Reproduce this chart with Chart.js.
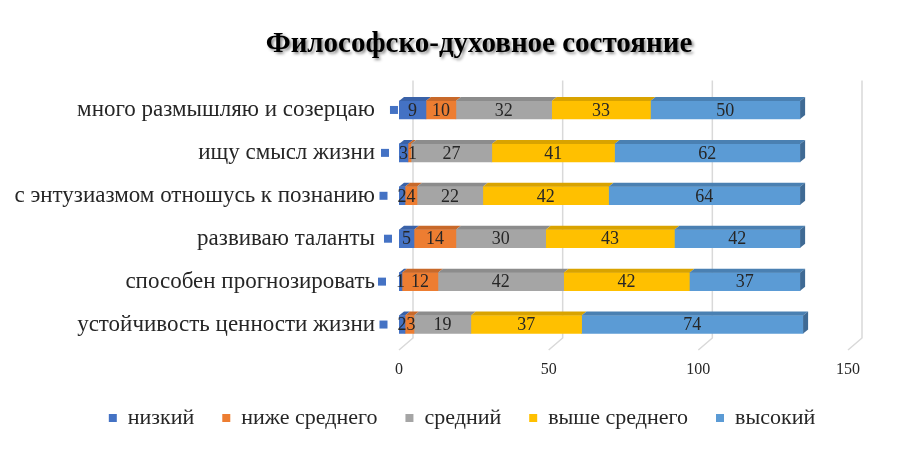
<!DOCTYPE html>
<html>
<head>
<meta charset="utf-8">
<script src="https://cdn.jsdelivr.net/npm/chart.js@4/dist/chart.umd.min.js"></script>
<style>
  html, body { margin: 0; padding: 0; background: #fff; }
  #wrap { width: 916px; height: 449px; }
</style>
</head>
<body>
<div id="wrap"><canvas id="stateChart" width="916" height="449"></canvas></div>
<script>
const categories = [
    'много размышляю и созерцаю',
    'ищу смысл жизни',
    'с энтузиазмом отношусь к познанию',
    'развиваю таланты',
    'способен прогнозировать',
    'устойчивость ценности жизни'
];
const seriesNames = ['низкий', 'ниже среднего', 'средний', 'выше среднего', 'высокий'];
const low = [9, 3, 2, 5, 1, 2];
const belowMid = [10, 1, 4, 14, 12, 3];
const mid = [32, 27, 22, 30, 42, 19];
const aboveMid = [33, 41, 42, 43, 42, 37];
const high = [50, 62, 64, 42, 37, 74];
const xTicks = [0, 50, 100, 150];

const colors = ['#4472C4', '#ED7D31', '#A5A5A5', '#FFC000', '#5B9BD5'];
const topColors = ['#3a62a8', '#c8692a', '#8c8c8c', '#d9a300', '#4a80b2'];
const sideColor = '#3f6a94';
const serif = '"Liberation Serif", "Times New Roman", serif';

// fake 3d: back wall grid lines with a slanted foot
const wallGrid = {
    id: 'wallGrid',
    beforeDatasetsDraw(chart) {
        const {ctx, chartArea, scales: {x}} = chart;
        ctx.save();
        ctx.strokeStyle = '#d9d9d9';
        ctx.lineWidth = 1.5;
        xTicks.forEach(v => {
            const xf = x.getPixelForValue(v);
            ctx.beginPath();
            ctx.moveTo(xf + 14, chartArea.top - 8);
            ctx.lineTo(xf + 14, chartArea.bottom - 8);
            ctx.lineTo(xf, chartArea.bottom + 4);
            ctx.stroke();
        });
        ctx.restore();
    }
};

// top faces of bars and the right end of the stack
const bar3d = {
    id: 'bar3d',
    afterDatasetsDraw(chart) {
        const ctx = chart.ctx;
        const dx = 5, dy = 4;
        ctx.save();
        chart.data.datasets.forEach((ds, i) => {
            const meta = chart.getDatasetMeta(i);
            meta.data.forEach(bar => {
                const top = bar.y - bar.height / 2;
                const bottom = bar.y + bar.height / 2;
                const x0 = Math.min(bar.base, bar.x), x1 = Math.max(bar.base, bar.x);
                ctx.fillStyle = topColors[i];
                ctx.beginPath();
                ctx.moveTo(x0, top);
                ctx.lineTo(x1, top);
                ctx.lineTo(x1 + dx, top - dy);
                ctx.lineTo(x0 + dx, top - dy);
                ctx.closePath();
                ctx.fill();
                if (i === chart.data.datasets.length - 1) {
                    ctx.fillStyle = sideColor;
                    ctx.beginPath();
                    ctx.moveTo(x1, top);
                    ctx.lineTo(x1 + dx, top - dy);
                    ctx.lineTo(x1 + dx, bottom - dy);
                    ctx.lineTo(x1, bottom);
                    ctx.closePath();
                    ctx.fill();
                }
            });
        });
        ctx.restore();
    }
};

// value labels, nudged right when they collide; first series shows a legend key
const valueLabels = {
    id: 'valueLabels',
    afterDatasetsDraw(chart) {
        const ctx = chart.ctx;
        ctx.save();
        ctx.font = '18px ' + serif;
        ctx.fillStyle = '#262626';
        ctx.textBaseline = 'middle';
        ctx.textAlign = 'left';
        categories.forEach((c, row) => {
            let prevRight = -Infinity;
            chart.data.datasets.forEach((ds, i) => {
                const bar = chart.getDatasetMeta(i).data[row];
                const txt = String(ds.data[row]);
                const w = ctx.measureText(txt).width;
                let left = (bar.base + bar.x) / 2 - w / 2;
                if (left < prevRight) left = prevRight;
                ctx.fillText(txt, left, bar.y + 1);
                if (i === 0) {
                    ctx.fillStyle = colors[0];
                    ctx.fillRect(left - 18, bar.y - 4, 8, 8);
                    ctx.fillStyle = '#262626';
                }
                prevRight = left + w;
            });
        });
        ctx.restore();
    }
};

const shadowTitle = {
    id: 'shadowTitle',
    afterDraw(chart) {
        const ctx = chart.ctx;
        ctx.save();
        ctx.font = 'bold 29px ' + serif;
        ctx.textAlign = 'center';
        ctx.textBaseline = 'middle';
        ctx.shadowColor = 'rgba(0,0,0,0.45)';
        ctx.shadowOffsetX = 2;
        ctx.shadowOffsetY = 2;
        ctx.shadowBlur = 3;
        ctx.fillStyle = '#000';
        ctx.fillText('Философско-духовное состояние', 479, 45);
        ctx.restore();
    }
};

// legend in the reference sits a bit right of the canvas centre
const legendShift = {
    id: 'legendShift',
    afterLayout(chart) {
        if (chart.legend) chart.legend.left += 76;
    }
};

const seriesData = [low, belowMid, mid, aboveMid, high];

new Chart(document.getElementById('stateChart'), {
    type: 'bar',
    data: {
        labels: categories,
        datasets: seriesNames.map((name, i) => ({
            label: name,
            data: seriesData[i],
            backgroundColor: colors[i],
            borderWidth: 0,
            barThickness: 18
        }))
    },
    options: {
        indexAxis: 'y',
        responsive: false,
        animation: false,
        layout: { padding: { top: 88.5, right: 68, bottom: 10, left: 0 } },
        scales: {
            x: {
                stacked: true,
                min: 0,
                max: 150,
                afterBuildTicks: s => { s.ticks = xTicks.map(v => ({ value: v })); },
                afterFit: s => { s.height = 33; },
                grid: { display: false, drawTicks: false },
                border: { display: false },
                ticks: { padding: 14, color: '#262626', font: { family: serif, size: 16 } }
            },
            y: {
                stacked: true,
                afterFit: s => { s.width = 399; },
                grid: { display: false, drawTicks: false },
                border: { display: false },
                ticks: { padding: 24, color: '#262626', font: { family: serif, size: 23 } }
            }
        },
        plugins: {
            legend: {
                position: 'bottom',
                labels: {
                    boxWidth: 8,
                    boxHeight: 8,
                    padding: 28,
                    color: '#262626',
                    font: { family: serif, size: 22 }
                }
            },
            tooltip: { enabled: false }
        }
    },
    plugins: [wallGrid, bar3d, valueLabels, shadowTitle, legendShift]
});
</script>
</body>
</html>
